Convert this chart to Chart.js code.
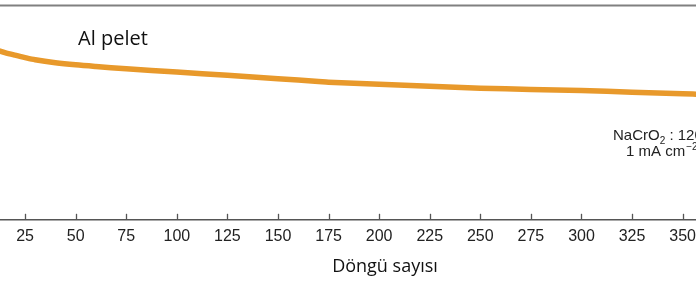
<!DOCTYPE html>
<html>
<head>
<meta charset="utf-8">
<script src="https://cdn.jsdelivr.net/npm/chart.js"></script>
<style>
html, body { margin: 0; padding: 0; background: #fff; overflow: hidden; }
#wrap { width: 696px; height: 284px; position: relative; }
</style>
</head>
<body>
<div id="wrap"><canvas id="chart" width="696" height="284"></canvas></div>
<script>
// cycle numbers and capacity
const cycles = [10, 15, 20, 25, 30, 40, 50, 60, 75, 100, 125, 150, 170, 175, 200, 225, 250, 275, 300, 325, 350, 360];
const capacity = [111.5, 109.5, 107.8, 106.2, 104.8, 102.9, 101.5, 100.4, 98.9, 96.8, 94.6, 92.4, 90.6, 90.1, 88.7, 87.5, 86.2, 85.4, 84.7, 83.6, 82.5, 82.1];
const xTicks = [25, 50, 75, 100, 125, 150, 175, 200, 225, 250, 275, 300, 325, 350];

const lineColor = '#E8992B';
const axisColor = '#555555';

const decor = {
  id: 'decor',
  afterDraw(chart) {
    const ctx = chart.ctx;
    const area = chart.chartArea;
    const x = chart.scales.x;
    ctx.save();
    // top frame line
    ctx.strokeStyle = '#808080';
    ctx.lineWidth = 2;
    ctx.beginPath();
    ctx.moveTo(0, 5.5);
    ctx.lineTo(chart.width, 5.5);
    ctx.stroke();
    // inward tick marks
    ctx.strokeStyle = axisColor;
    ctx.lineWidth = 1.3;
    xTicks.forEach(v => {
      const px = Math.round(x.getPixelForValue(v)) + 0.5;
      ctx.beginPath();
      ctx.moveTo(px, area.bottom);
      ctx.lineTo(px, area.bottom - 6);
      ctx.stroke();
    });
    // texts
    ctx.fillStyle = '#111';
    ctx.textBaseline = 'alphabetic';
    ctx.textAlign = 'center';
    ctx.font = '20px "Open Sans"';
    ctx.fillText('Al pelet', 113, 45);
    ctx.font = '18px "Open Sans"';
    ctx.fillText('Döngü sayısı', 385, 272);

    // annotation on the right (cut by the edge)
    ctx.textAlign = 'left';
    ctx.fillStyle = '#222';
    ctx.font = '15px "Liberation Sans"';
    let cx = 613;
    ctx.fillText('NaCrO', cx, 140);
    cx += ctx.measureText('NaCrO').width;
    ctx.font = '10px "Liberation Sans"';
    ctx.fillText('2', cx, 144);
    cx += ctx.measureText('2').width;
    ctx.font = '15px "Liberation Sans"';
    ctx.fillText(' : 120 mAh g', cx, 140);

    ctx.fillText('1 mA cm', 626, 156);
    const w = ctx.measureText('1 mA cm').width;
    ctx.font = '10px "Liberation Sans"';
    ctx.fillText('\u22122', 626 + w + 1, 150);
    ctx.restore();
  }
};

new Chart(document.getElementById('chart'), {
  type: 'line',
  data: {
    datasets: [{
      data: cycles.map((c, i) => ({ x: c, y: capacity[i] })),
      borderColor: lineColor,
      borderWidth: 5.5,
      pointRadius: 0,
      tension: 0.3,
      fill: false
    }]
  },
  options: {
    responsive: false,
    animation: false,
    devicePixelRatio: 1,
    layout: { padding: { left: 0, right: 0, top: 6, bottom: 31 } },
    plugins: { legend: { display: false }, tooltip: { enabled: false } },
    scales: {
      x: {
        type: 'linear',
        min: 12.6,
        max: 356.6,
        afterBuildTicks: scale => { scale.ticks = xTicks.map(v => ({ value: v })); },
        afterFit: scale => { scale.paddingLeft = 0; scale.paddingRight = 0; },
        grid: { display: false, drawTicks: false },
        border: { display: true, color: axisColor, width: 1.5 },
        ticks: {
          autoSkip: false,
          maxRotation: 0,
          padding: 7,
          color: '#222',
          font: { family: 'Liberation Sans', size: 16 }
        }
      },
      y: {
        display: false,
        min: 0,
        max: 140
      }
    }
  },
  plugins: [decor]
});
</script>
</body>
</html>
